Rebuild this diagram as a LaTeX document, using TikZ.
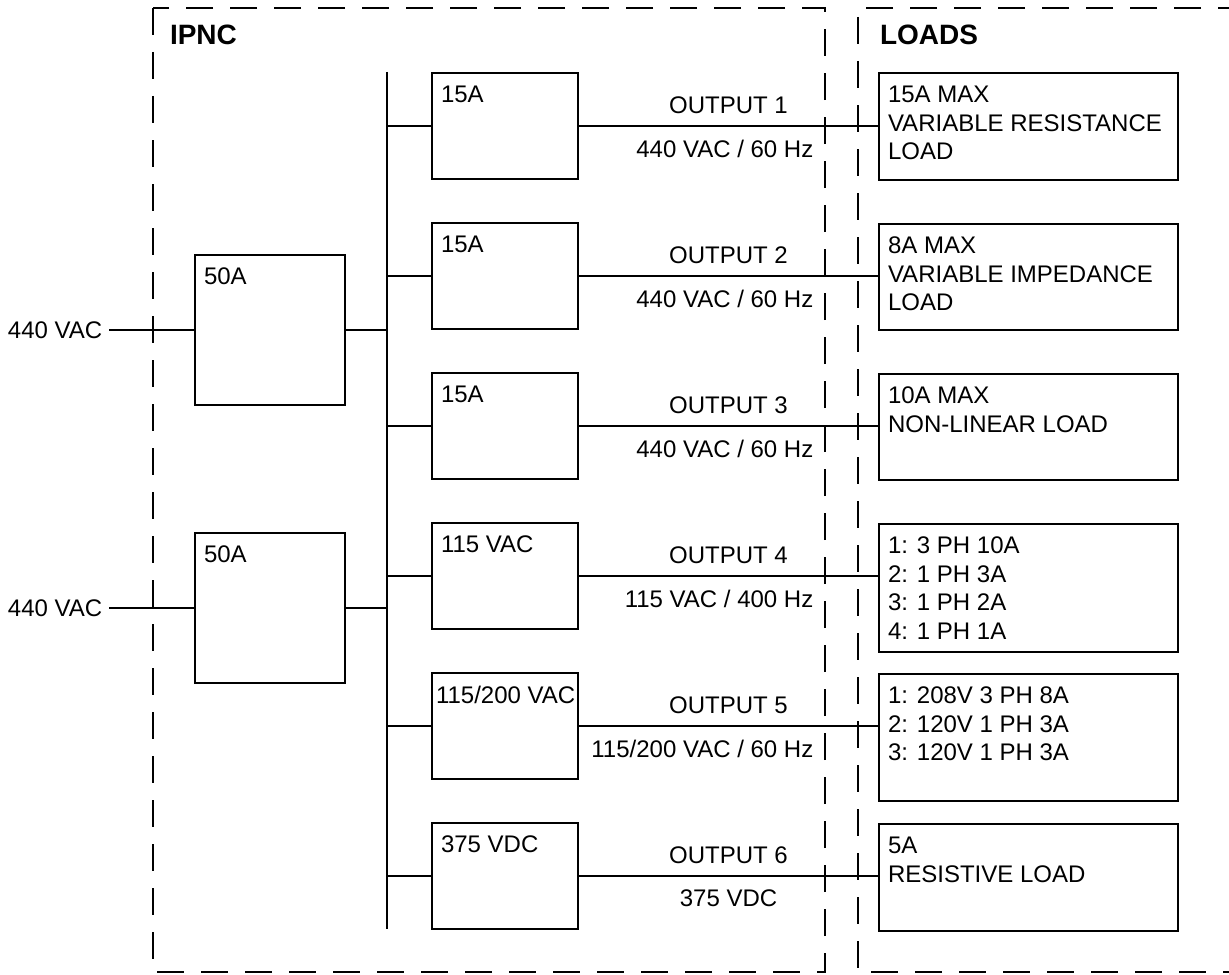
\documentclass[tikz,border=0pt]{standalone}
\usepackage{fontspec}
\setmainfont{Liberation Sans}
\usetikzlibrary{positioning}

\begin{document}
\begin{tikzpicture}[x=0.5pt, y=-0.5pt, line width=1pt,
  box/.style={draw, black, line width=1pt, rectangle, inner sep=0pt},
  conv/.style={box, minimum width=73pt, minimum height=53pt},
  brk/.style={box, minimum width=75pt, minimum height=75pt},
  ldbox/.style={box, minimum width=149.5pt, anchor=north},
  tag/.style={font=\fontsize{12}{14.25}\selectfont, inner sep=0pt, align=left},
  intag/.style={tag, anchor=north west, xshift=4.5pt, yshift=-6.5pt},
  ldtag/.style={tag, anchor=north west, xshift=4.5pt, yshift=-6.5pt},
  frame/.style={black, line width=1pt, dash pattern=on 13.5pt off 8.5pt},
  title/.style={font=\fontsize{14}{16}\selectfont\bfseries, inner sep=0pt, anchor=west},
  outtop/.style={tag, midway, above=5.5pt},
  outbot/.style={tag, pos=0.787, anchor=north east, yshift=-6.5pt},
]
\useasboundingbox (0,0) rectangle (1229,974);

% 虚线框
\begin{scope}
\clip (0,0) rectangle (1229,974);
\draw[frame] (153,8) rectangle (825,972);
\draw[frame] (1245,8) -- (858,8) -- (858,972) -- (1245,972);
\end{scope}
\node[title] (ipnc) at (169,35) {IPNC};
\node[title] (loads) at (879,35) {LOADS};

% 输入和断路器
\node[tag, anchor=west, inner sep=3pt] (in1) at (1,330) {440 VAC};
\node[tag, anchor=west, inner sep=3pt] (in2) at (1,608) {440 VAC};
\node[brk, label={[intag]north west:50A}] (b1) at (270,330) {};
\node[brk, label={[intag]north west:50A}] (b2) at (270,608) {};

% 母线
\coordinate (bustop) at (387,72);
\coordinate (busbot) at (387,929);
\draw (bustop) -- (busbot);

% 输出模块
\node[conv, label={[intag]north west:15A}] (c1) at (505,126) {};
\node[conv, label={[intag]north west:15A}] (c2) at (505,276) {};
\node[conv, label={[intag]north west:15A}] (c3) at (505,426) {};
\node[conv, label={[intag]north west:115 VAC}] (c4) at (505,576) {};
\node[conv, label={[intag, xshift=-2.5pt]north west:115/200 VAC}] (c5) at (505,726) {};
\node[conv, label={[intag]north west:375 VDC}] (c6) at (505,876) {};

% 负载
\node[ldbox, minimum height=53.5pt, label={[ldtag]north west:{15A MAX\\VARIABLE RESISTANCE\\LOAD}}] (l1) at (1028.5,72) {};
\node[ldbox, minimum height=53pt, label={[ldtag]north west:{8A MAX\\VARIABLE IMPEDANCE\\LOAD}}] (l2) at (1028.5,223) {};
\node[ldbox, minimum height=53pt, label={[ldtag]north west:{10A MAX\\NON-LINEAR LOAD}}] (l3) at (1028.5,373) {};
\node[ldbox, minimum height=64pt, label={[ldtag]north west:{1: 3 PH 10A\\2: 1 PH 3A\\3: 1 PH 2A\\4: 1 PH 1A}}] (l4) at (1028.5,523) {};
\node[ldbox, minimum height=63.5pt, label={[ldtag]north west:{1: 208V 3 PH 8A\\2: 120V 1 PH 3A\\3: 120V 1 PH 3A}}] (l5) at (1028.5,673) {};
\node[ldbox, minimum height=53.5pt, label={[ldtag]north west:{5A\\RESISTIVE LOAD}}] (l6) at (1028.5,823) {};

% 连线
\draw (in1.east) -- (b1.west);
\draw (in2.east) -- (b2.west);
\draw (b1.east) -- (b1.east -| bustop);
\draw (b2.east) -- (b2.east -| bustop);
\draw (c1.west -| bustop) -- (c1.west);
\draw (c2.west -| bustop) -- (c2.west);
\draw (c3.west -| bustop) -- (c3.west);
\draw (c4.west -| bustop) -- (c4.west);
\draw (c5.west -| bustop) -- (c5.west);
\draw (c6.west -| bustop) -- (c6.west);

\draw (c1.east) -- node[outtop] {OUTPUT 1} node[outbot] {440 VAC / 60 Hz} (c1.east -| l1.west);
\draw (c2.east) -- node[outtop] {OUTPUT 2} node[outbot] {440 VAC / 60 Hz} (c2.east -| l2.west);
\draw (c3.east) -- node[outtop] {OUTPUT 3} node[outbot] {440 VAC / 60 Hz} (c3.east -| l3.west);
\draw (c4.east) -- node[outtop] {OUTPUT 4} node[outbot] {115 VAC / 400 Hz} (c4.east -| l4.west);
\draw (c5.east) -- node[outtop] {OUTPUT 5} node[outbot] {115/200 VAC / 60 Hz} (c5.east -| l5.west);
\draw (c6.east) -- node[outtop] {OUTPUT 6} node[tag, midway, below=6.5pt] {375 VDC} (c6.east -| l6.west);

\end{tikzpicture}
\end{document}
